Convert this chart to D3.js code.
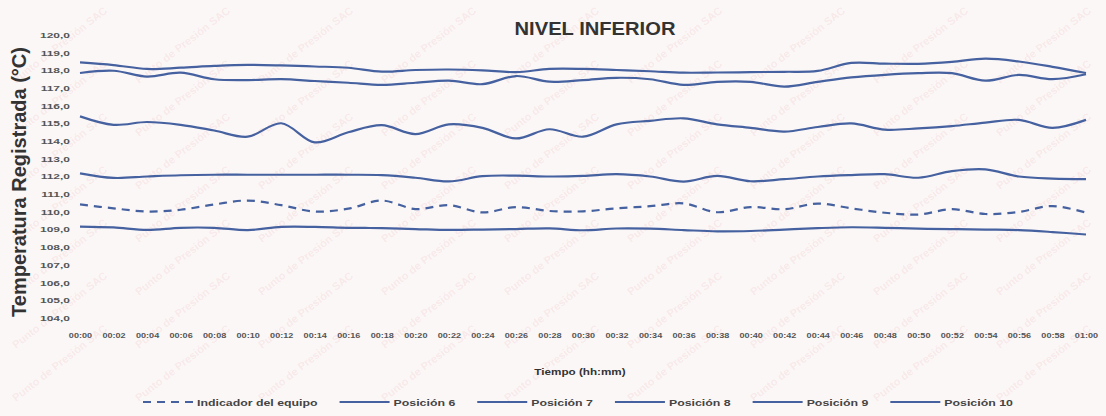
<!DOCTYPE html>
<html>
<head>
<meta charset="utf-8">
<script src="https://cdn.jsdelivr.net/npm/d3@7"></script>
<style>
  body { margin: 0; background: #fbf7f7; }
  svg { display: block; }
</style>
</head>
<body>
<svg id="chart" width="1106" height="416"></svg>
<script>
// Time axis categories (hh:mm)
const times = ["00:00","00:02","00:04","00:06","00:08","00:10","00:12","00:14","00:16","00:18",
               "00:20","00:22","00:24","00:26","00:28","00:30","00:32","00:34","00:36","00:38",
               "00:40","00:42","00:44","00:46","00:48","00:50","00:52","00:54","00:56","00:58","01:00"];

// Temperature readings (°C)
const indicador = [110.42,110.20,110.02,110.12,110.42,110.64,110.38,110.02,110.18,110.64,
                   110.16,110.38,109.97,110.27,110.05,110.03,110.20,110.32,110.48,109.98,
                   110.27,110.15,110.47,110.20,109.95,109.85,110.15,109.88,110.00,110.33,109.96];
const posicion6 = [118.45,118.30,118.08,118.15,118.25,118.31,118.28,118.22,118.15,117.93,
                   118.02,118.05,118.00,117.90,118.08,118.08,118.02,117.95,117.87,117.88,
                   117.90,117.92,117.97,118.42,118.38,118.37,118.48,118.66,118.50,118.20,117.85];
const posicion7 = [117.85,117.98,117.65,117.87,117.50,117.45,117.50,117.40,117.30,117.18,
                   117.30,117.42,117.22,117.68,117.36,117.45,117.58,117.50,117.18,117.35,
                   117.35,117.08,117.35,117.60,117.75,117.84,117.84,117.42,117.74,117.50,117.78];
const posicion8 = [115.40,114.92,115.08,114.92,114.60,114.25,115.01,113.93,114.50,114.90,
                   114.40,114.95,114.75,114.15,114.67,114.25,114.95,115.15,115.29,114.95,
                   114.75,114.54,114.80,115.00,114.65,114.72,114.85,115.05,115.20,114.75,115.20];
const posicion9 = [112.18,111.92,112.00,112.07,112.10,112.10,112.10,112.10,112.10,112.08,
                   111.93,111.72,112.02,112.05,112.00,112.03,112.13,112.00,111.71,112.03,
                   111.73,111.85,112.00,112.08,112.13,111.93,112.30,112.40,112.00,111.88,111.85];
const posicion10 = [109.17,109.12,108.98,109.10,109.10,108.97,109.15,109.15,109.10,109.08,
                    109.03,108.98,109.00,109.03,109.07,108.96,109.06,109.05,108.97,108.90,
                    108.92,109.00,109.08,109.13,109.10,109.05,109.03,109.00,108.97,108.86,108.72];

const yTicks = [104,105,106,107,108,109,110,111,112,113,114,115,116,117,118,119,120];

const series = [
  { name: "Indicador del equipo", values: indicador, dashed: true },
  { name: "Posición 6", values: posicion6 },
  { name: "Posición 7", values: posicion7 },
  { name: "Posición 8", values: posicion8 },
  { name: "Posición 9", values: posicion9 },
  { name: "Posición 10", values: posicion10 }
];

const lineColor = "#45619f";
const font = "Liberation Sans, Arial, sans-serif";
const svg = d3.select("#chart");

// faint diagonal watermark stamped across the sheet
const wm = svg.append("g");
for (let r = 0; r < 7; r++) {
  for (let c = 0; c < 9; c++) {
    const wx = 62 + c * 123;
    const wy = 48 + r * 53;
    wm.append("text")
      .attr("transform", `translate(${wx},${wy}) rotate(-38)`)
      .attr("text-anchor", "middle")
      .attr("font-family", font)
      .attr("font-size", 11)
      .attr("font-weight", "bold")
      .attr("fill", "rgba(228,110,110,0.11)")
      .text("Punto de Presión SAC");
  }
}

const x = d3.scalePoint().domain(times).range([80, 1086]);
const y = d3.scaleLinear().domain([104, 120]).range([318, 35]);

// title
svg.append("text")
  .attr("transform", "translate(595,35) scale(1.12,1)")
  .attr("text-anchor", "middle")
  .attr("font-family", font)
  .attr("font-weight", "bold")
  .attr("font-size", 18)
  .attr("fill", "#333")
  .text("NIVEL INFERIOR");

// y axis
const fmt = d => d3.format(".1f")(d).replace(".", ",");
const yAxis = svg.append("g")
  .attr("transform", "translate(70,0)")
  .call(d3.axisLeft(y).tickValues(yTicks).tickSize(0).tickPadding(0).tickFormat(fmt));
yAxis.select(".domain").remove();
yAxis.selectAll("text")
  .attr("transform", "scale(1.6,1)")
  .attr("font-family", font)
  .attr("font-weight", "bold")
  .attr("font-size", 7.5)
  .attr("fill", "#555");

// x axis
const xAxis = svg.append("g")
  .attr("transform", "translate(0,330)")
  .call(d3.axisBottom(x).tickSize(0).tickPadding(3));
xAxis.select(".domain").remove();
xAxis.selectAll("text")
  .attr("transform", "scale(1.3,1)")
  .attr("font-family", font)
  .attr("font-weight", "bold")
  .attr("font-size", 7)
  .attr("fill", "#555");

// axis titles
svg.append("text")
  .attr("transform", "translate(26,182) rotate(-90)")
  .attr("text-anchor", "middle")
  .attr("font-family", font)
  .attr("font-weight", "bold")
  .attr("font-size", 20)
  .attr("fill", "#333")
  .text("Temperatura Registrada (°C)");

svg.append("text")
  .attr("transform", "translate(580,375) scale(1.3,1)")
  .attr("text-anchor", "middle")
  .attr("font-family", font)
  .attr("font-weight", "bold")
  .attr("font-size", 9)
  .attr("fill", "#333")
  .text("Tiempo (hh:mm)");

// series lines
const line = d3.line()
  .x((d, i) => x(times[i]))
  .y(d => y(d))
  .curve(d3.curveCatmullRom.alpha(0.5));

svg.append("g").selectAll("path")
  .data(series)
  .join("path")
  .attr("d", s => line(s.values))
  .attr("fill", "none")
  .attr("stroke", lineColor)
  .attr("stroke-width", 2.2)
  .attr("stroke-dasharray", s => s.dashed ? "8,6" : null);

// legend
const legend = svg.append("g").attr("transform", "translate(0,402)");
let lx = 143;
const sampleW = 50, sx = 1.3;
series.forEach(s => {
  legend.append("line")
    .attr("x1", lx).attr("x2", lx + sampleW)
    .attr("y1", 0).attr("y2", 0)
    .attr("stroke", lineColor)
    .attr("stroke-width", 2)
    .attr("stroke-dasharray", s.dashed ? "8,6" : null);
  const t = legend.append("text")
    .attr("transform", `translate(${lx + sampleW + 4},3.5) scale(${sx},1)`)
    .attr("font-family", font)
    .attr("font-weight", "bold")
    .attr("font-size", 9.5)
    .attr("fill", "#444")
    .text(s.name);
  const w = t.node().getComputedTextLength() * sx;
  lx += sampleW + 4 + w + 22;
});
</script>
</body>
</html>
